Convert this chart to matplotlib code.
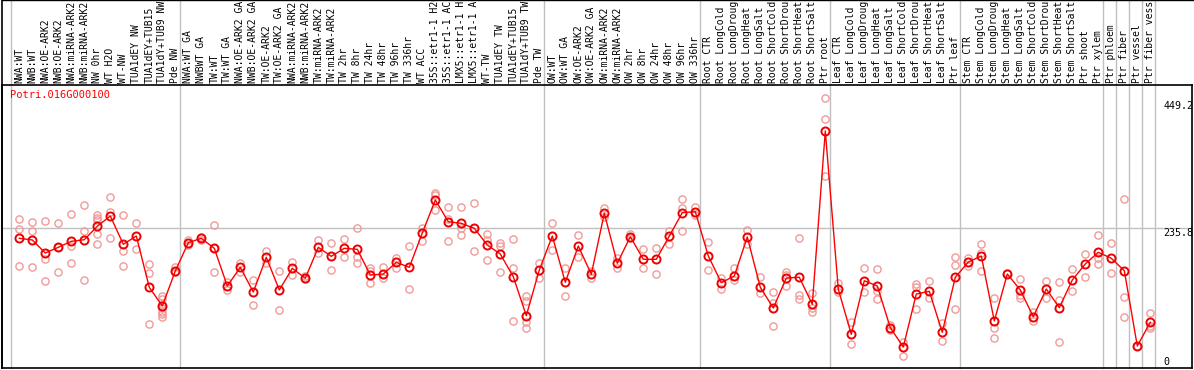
import matplotlib
matplotlib.use("Agg")
import matplotlib.pyplot as plt

title = "Potri.016G000100"

categories = [
    "NWA:WT", "NWB:WT", "NWA:OE-ARK2", "NWB:OE-ARK2", "NWA:miRNA-ARK2", "NWB:miRNA-ARK2",
    "NW 0hr", "WT H2O", "WT-NW", "TUA1dEY NW", "TUA1dEY+TUB15", "TUA1dY+TUB9 NW", "Pde NW",
    "NWA:WT GA", "NWBWT GA", "TW:WT", "TW:WT GA", "NWA:OE-ARK2 GA", "NWB:OE-ARK2 GA",
    "TW:OE-ARK2", "TW:OE-ARK2 GA", "NWA:miRNA-ARK2", "NWB:miRNA-ARK2", "TW:miRNA-ARK2",
    "TW:miRNA-ARK2", "TW 2hr", "TW 8hr", "TW 24hr", "TW 48hr", "TW 96hr", "TW 336hr",
    "WT ACC", "35S::etr1-1 H2O", "35S::etr1-1 ACC", "LMX5::etr1-1 H2O", "LMX5::etr1-1 ACC",
    "WT-TW", "TUA1dEY TW", "TUA1dEY+TUB15", "TUA1dY+TUB9 TW", "Pde TW",
    "OW:WT", "OW:WT GA", "OW:OE-ARK2", "OW:OE-ARK2 GA", "OW:miRNA-ARK2", "OW:miRNA-ARK2",
    "OW 2hr", "OW 8hr", "OW 24hr", "OW 48hr", "OW 96hr", "OW 336hr",
    "Root CTR", "Root LongCold", "Root LongDrought", "Root LongHeat", "Root LongSalt",
    "Root ShortCold", "Root ShortDrought", "Root ShortHeat", "Root ShortSalt", "Ptr root",
    "Leaf CTR", "Leaf LongCold", "Leaf LongDrought", "Leaf LongHeat", "Leaf LongSalt",
    "Leaf ShortCold", "Leaf ShortDrought", "Leaf ShortHeat", "Leaf ShortSalt", "Ptr leaf",
    "Stem CTR", "Stem LongCold", "Stem LongDrought", "Stem LongHeat", "Stem LongSalt",
    "Stem ShortCold", "Stem ShortDrought", "Stem ShortHeat", "Stem ShortSalt",
    "Ptr shoot", "Ptr xylem", "Ptr phloem", "Ptr fiber", "Ptr vessel", "Ptr fiber vessel",
]

means = [
    218.5, 215.6, 193.7, 203.3, 213.4, 216.1, 238.7, 256.0, 208.4, 222.3, 135.9, 104.4, 163.4,
    211.1, 218.5, 201.6, 138.1, 169.6, 128.0, 186.5, 131.4, 167.9, 151.1, 203.3, 188.1,
    201.6, 199.9, 156.6, 158.3, 178.0, 169.6, 227.4, 283.0, 246.4, 243.7, 235.3,
    207.2, 192.0, 153.8, 88.1, 165.1,
    222.3, 144.4, 205.5, 157.8, 260.6, 176.4, 221.2, 183.1, 183.1, 222.3, 261.6, 263.3,
    188.7, 143.7, 155.0, 220.7, 135.9, 101.1, 151.6, 152.8, 107.3, 399.2,
    132.6, 56.8, 147.0, 138.1, 67.9, 35.4, 124.6, 129.2, 60.1, 152.8,
    178.5, 188.7, 79.2, 158.3, 131.4, 86.4, 133.1, 101.6, 148.2,
    175.2, 194.9, 184.8, 163.9, 37.1, 77.0,
]

replicates = [
    [250.5, 233.6, 171.3], [245.9, 231.3, 169.6], [248.1, 184.1, 146.5], [243.7, 203.0, 161.2],
    [259.4, 206.0, 176.9], [274.0, 230.8, 148.2], [257.7, 252.7, 249.3, 225.2, 208.4],
    [288.0, 262.8, 218.5], [257.7, 197.6, 171.3], [243.7, 199.9], [175.2, 159.5, 74.1],
    [121.8, 115.7, 108.0, 100.6, 94.8, 90.5, 86.4], [169.6, 162.2],
    [215.6, 207.2], [220.1, 216.0], [240.9, 202.0, 161.2], [145.4, 130.9], [176.4, 162.2],
    [148.2, 105.6], [197.6, 176.4], [163.4, 97.7], [179.0, 156.6], [155.0, 149.4],
    [215.6, 193.2], [210.0, 165.1], [216.8, 186.5], [235.3, 187.5, 177.4],
    [167.9, 163.9, 142.7], [169.6, 151.1], [185.8, 167.9], [205.5, 133.1],
    [236.3, 214.4], [294.3, 291.4, 266.1], [270.7, 250.5, 213.9], [270.7, 235.3, 223.5],
    [277.4, 197.6],
    [225.7, 215.6, 181.9], [210.0, 205.5, 161.2], [216.8, 167.9, 79.2],
    [121.3, 113.4, 78.0, 66.9], [176.4, 151.1],
    [243.7, 198.8], [167.9, 121.3], [224.0, 186.5], [163.4, 151.1], [270.0, 253.8],
    [185.8, 167.9], [225.7, 218.5], [199.9, 167.9], [201.6, 158.3], [231.3, 208.4],
    [284.7, 269.0, 230.8], [271.7, 257.7],
    [212.2, 165.1], [151.1, 132.6], [167.9, 148.2], [232.4, 208.9], [152.8, 126.8],
    [127.5, 109.0, 70.2], [162.2, 156.6, 138.1], [218.5, 123.0, 115.7], [125.8, 100.6, 94.8],
    [454.3, 418.9, 323.9],
    [143.7, 128.5], [78.0, 39.9], [167.9, 128.5], [166.2, 130.2, 115.7], [72.4, 64.0],
    [44.3, 20.7], [141.5, 136.9, 99.4], [146.5, 117.4], [75.3, 46.0], [186.5, 173.5, 98.9],
    [184.8, 171.8], [208.9, 193.2, 163.4], [117.4, 67.9, 50.0], [160.5],
    [149.4, 123.0, 118.4], [94.8, 79.7], [146.5, 117.4], [144.4, 114.5, 44.3],
    [166.8, 130.2],
    [192.0, 152.8], [224.0, 184.8, 175.2], [210.0, 160.5], [284.2, 119.1, 86.4], [37.1],
    [92.1, 70.7, 66.9],
]

# group boundaries: index of first category of each group (last entry = end)
group_starts = [0, 13, 41, 53, 63, 73, 84, 85, 86, 87, 88]
y_ticks = [0, 235.8, 449.2]
y_tick_labels = ["0", "235.8", "449.2"]

W, H = 1194, 370
fig = plt.figure(figsize=(W / 100, H / 100), dpi=100)
ax_left, ax_right = 2 / W, 1192 / W
ax_bot, ax_top = (H - 368) / H, (H - 85) / H
ax = fig.add_axes([ax_left, ax_bot, ax_right - ax_left, ax_top - ax_bot])

n = len(categories)
xs = list(range(n))
ax.set_xlim(-1.331, 90.208)
ax.set_ylim(0, 476.7)

grid_c = "#c0c0c0"
rep_c = "#f09a9a"
mono = "DejaVu Sans Mono"

# grid lines
ax.axhline(235.8, color=grid_c, lw=1, zorder=1)
for g in group_starts:
    ax.axvline(g - 0.64, ymin=0, ymax=368 / 283, color=grid_c, lw=1, clip_on=False, zorder=1)

# replicates
for i, reps in enumerate(replicates):
    ax.plot([i] * len(reps), reps, linestyle="none", marker="o", markersize=5.2,
            markerfacecolor="none", markeredgecolor=rep_c, markeredgewidth=1.0, zorder=2)

# mean line
ax.plot(xs, means, color="#ff0000", lw=1.0, zorder=3)
ax.plot(xs, means, linestyle="none", marker="o", markersize=5.8,
        markerfacecolor="none", markeredgecolor="#ee0000", markeredgewidth=1.4, zorder=4)

# category labels on top
ax.xaxis.tick_top()
ax.set_xticks(xs)
ax.set_xticklabels(categories, rotation=90, fontsize=7, family=mono, va="bottom", ha="center")
ax.tick_params(axis="x", length=0, pad=1.5)

# right axis labels
ax.set_yticks([])
for v, lab in zip(y_ticks, y_tick_labels):
    va = "bottom" if v == 0 else "top"
    yy = v + (2.5 if v == 0 else 0)
    ax.text(88.0, yy, lab, fontsize=7.2, family=mono,
            ha="left", va=va, color="black", zorder=5)

ax.text(-0.75, 468, title, color="#ff0000", fontsize=7.5, family=mono, ha="left", va="top")

for s in ["left", "bottom", "right", "top"]:
    ax.spines[s].set_color("black")
    ax.spines[s].set_linewidth(1.2)

# left border extended into label area, and top border line
fig.add_artist(plt.Line2D([ax_left, ax_left], [ax_bot, 1.0], color="black", lw=1.2))
fig.add_artist(plt.Line2D([ax_left, 1.0], [0.999, 0.999], color="black", lw=1.0))

fig.savefig("out.png", dpi=100)
